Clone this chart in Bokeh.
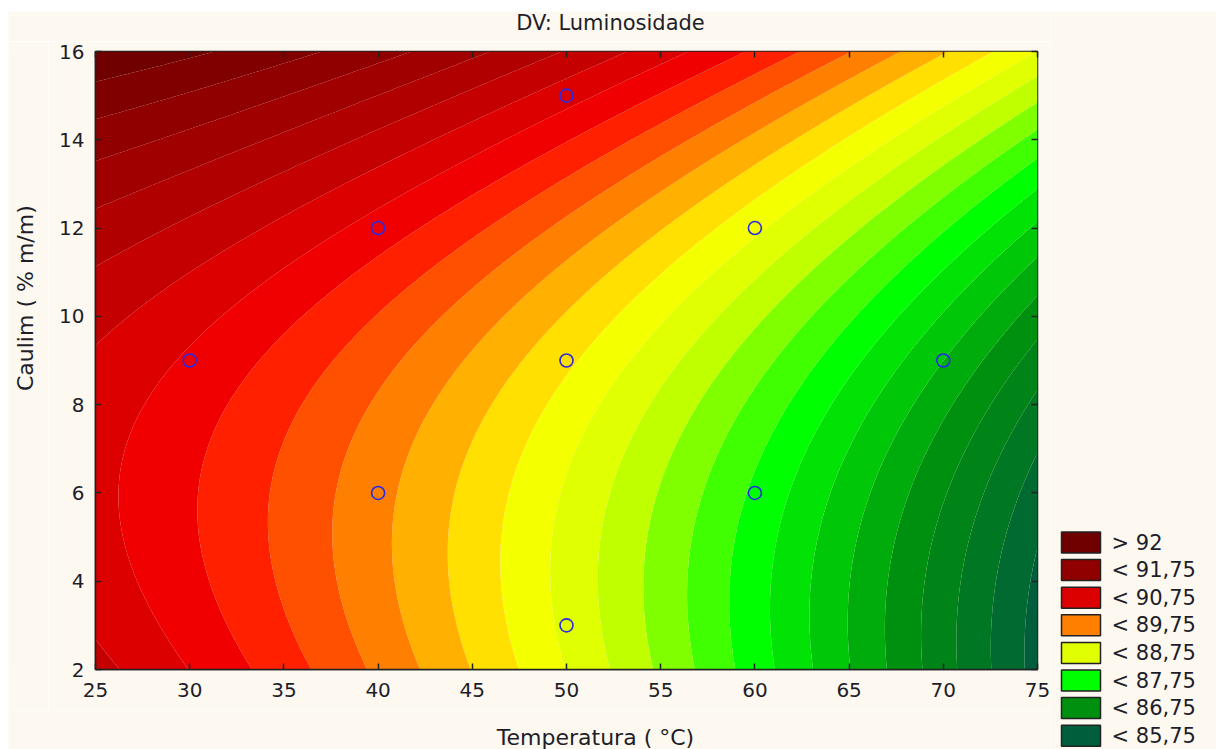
import numpy as np
from bokeh.plotting import figure
from bokeh.models import Range1d, FixedTicker, LinearAxis, Spacer
from bokeh.core.properties import value
from bokeh.layouts import row, column
from bokeh.embed import file_html
from bokeh.resources import INLINE

# Experimental design points (temperature in °C, kaolin in % m/m)
temperature_pts = [30, 40, 40, 50, 50, 50, 60, 60, 70]
caulim_pts = [9, 6, 12, 3, 9, 15, 6, 12, 9]

# Quadratic response surface for luminosity in coded variables
# t = (T - 50) / 10 ,  c = (C - 9) / 3
T_CENTER, T_STEP = 50.0, 10.0
C_CENTER, C_STEP = 9.0, 3.0
b0 = 89.052
b_t = -0.865
b_c = 0.480
b_tt = -0.080
b_cc = 0.149
b_tc = 0.0733

# Contour levels (0.25 apart) and the fill colour of each band, lowest first
levels = [85.75, 86.0, 86.25, 86.5, 86.75, 87.0, 87.25, 87.5, 87.75,
          88.0, 88.25, 88.5, 88.75, 89.0, 89.25, 89.5, 89.75, 90.0,
          90.25, 90.5, 90.75, 91.0, 91.25, 91.5, 91.75, 92.0]
band_colors = ["#005E3C", "#006A30", "#007723", "#008317", "#009010",
               "#00AC0C", "#00C808", "#00E304", "#00FF00", "#40FF00",
               "#80FF00", "#C0FF00", "#E0FF00", "#F4FF00", "#FFE000",
               "#FFB000", "#FF8000", "#FF5000", "#FF2000", "#F00000",
               "#DC0000", "#C40000", "#B00000", "#A00000", "#900000",
               "#800000", "#700000"]

legend_labels = ["> 92", "< 91,75", "< 90,75", "< 89,75",
                 "< 88,75", "< 87,75", "< 86,75", "< 85,75"]
legend_band_index = [26, 24, 20, 16, 12, 8, 4, 0]

x_ticks = [25, 30, 35, 40, 45, 50, 55, 60, 65, 70, 75]
y_ticks = [2, 4, 6, 8, 10, 12, 14, 16]

title_text = "DV: Luminosidade"
x_title = "Temperatura ( °C)"
y_title = "Caulim ( % m/m)"

BG = "#FDF9F0"
INK = "#1E1E2A"
FONT = "DejaVu Sans"


def text_strip(width, height):
    """Blank cream panel used to hold a title, an axis title or the key."""
    f = figure(width=width, height=height, x_range=Range1d(0, width), y_range=Range1d(0, height),
               output_backend="svg", toolbar_location=None, min_border=0,
               background_fill_color=BG, border_fill_color=BG)
    f.axis.visible = False
    f.grid.visible = False
    f.outline_line_color = None
    return f


# ---- surface grid ----
T = np.linspace(25, 75, 301)
C = np.linspace(2, 16, 301)
TT, CC = np.meshgrid(T, C)
t = (TT - T_CENTER) / T_STEP
c = (CC - C_CENTER) / C_STEP
Z = b0 + b_t * t + b_c * c + b_tt * t ** 2 + b_cc * c ** 2 + b_tc * t * c

contour_levels = [min(Z.min(), levels[0]) - 1.0] + levels + [max(Z.max(), levels[-1]) + 1.0]

p = figure(width=1002, height=669,
           x_range=Range1d(25, 75), y_range=Range1d(2, 16),
           output_backend="svg", toolbar_location=None,
           min_border_left=47, min_border_right=13,
           min_border_top=10, min_border_bottom=41,
           background_fill_color=BG, border_fill_color=BG)

p.contour(x=T, y=C, z=Z, levels=contour_levels, fill_color=band_colors)

p.scatter(temperature_pts, caulim_pts, marker="circle", size=13,
          fill_color=None, line_color="#2A2AE6", line_width=1.6)

p.grid.visible = False
p.outline_line_color = "#222222"
p.outline_line_width = 1.5

for ax, ticks in ((p.xaxis[0], x_ticks), (p.yaxis[0], y_ticks)):
    ax.ticker = FixedTicker(ticks=ticks)
    ax.major_tick_in = 6
    ax.major_tick_out = 0
    ax.minor_tick_in = 0
    ax.minor_tick_out = 0
    ax.axis_line_color = "#222222"
    ax.axis_line_width = 1.5
    ax.major_tick_line_color = "#222222"
    ax.major_tick_line_width = 1.5
    ax.major_label_text_font = FONT
    ax.major_label_text_font_size = "20px"
    ax.major_label_text_color = INK
p.xaxis.major_label_standoff = 13
p.yaxis.major_label_standoff = 11

# tick marks mirrored on the top and right edges (no labels there)
for side, ticks in (("above", x_ticks), ("right", y_ticks)):
    mirror = LinearAxis(ticker=FixedTicker(ticks=ticks), major_tick_in=6, major_tick_out=0,
                        minor_tick_in=0, minor_tick_out=0,
                        major_label_text_color=None, major_label_text_font_size="1px",
                        axis_line_color=None, major_tick_line_color="#222222",
                        major_tick_line_width=1.5, major_label_standoff=0)
    p.add_layout(mirror, side)

# ---- title and axis titles ----
title_fig = text_strip(1042, 30)
title_fig.text(x=[602], y=[19], text=[title_text], text_align="center", text_baseline="middle",
               text_font=value(FONT), text_font_size="21px", text_color=INK)

ylab_fig = text_strip(40, 669)
ylab_fig.text(x=[17], y=[402], text=[y_title], angle=np.pi / 2, text_align="center",
              text_baseline="middle", text_font=value(FONT), text_font_size="22px",
              text_color=INK)

xlab_fig = text_strip(1042, 39)
xlab_fig.text(x=[587], y=[12], text=[x_title], text_align="center", text_baseline="middle",
              text_font=value(FONT), text_font_size="22px", text_color=INK)

# ---- key panel (y measured downward from the panel top) ----
lf = text_strip(166, 738)
lf.y_range = Range1d(738, 0)

ly = [531 + 27.6 * i for i in range(len(legend_labels))]
lcol = [band_colors[i] for i in legend_band_index]
lf.rect(x=[30.5] * len(ly), y=ly, width=39, height=21, fill_color=lcol,
        line_color="#222222", line_width=1.5)
lf.text(x=[61] * len(ly), y=ly, text=legend_labels, text_baseline="middle",
        text_font=value(FONT), text_font_size="21px", text_color=INK)

chart = column(title_fig, row(ylab_fig, p), xlab_fig)
layout = column(Spacer(height=11), row(Spacer(width=8), chart, lf))
open("out.html", "w").write(file_html(layout, INLINE))
